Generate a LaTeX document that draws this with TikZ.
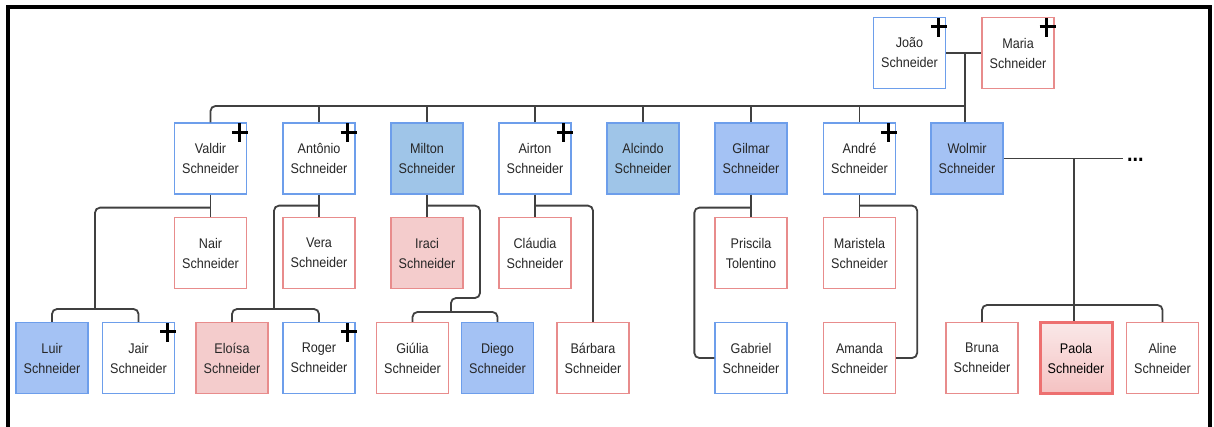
\documentclass[tikz,border=0pt]{standalone}
\usepackage{fontspec}
\setmainfont{Liberation Sans}[FakeStretch=0.9]
\usetikzlibrary{calc}
\definecolor{bline}{HTML}{6D9EEB}
\definecolor{rline}{HTML}{E88C8C}
\definecolor{bfillA}{HTML}{9FC5E8}
\definecolor{bfillB}{HTML}{A4C2F4}
\definecolor{pfill}{HTML}{F4CCCC}
\definecolor{txt}{HTML}{262626}
\definecolor{conn}{HTML}{404040}
\tikzset{
  person/.style={draw, line width=1.3pt, minimum width=72pt, minimum height=71pt, inner sep=0pt,
    align=center, text=txt, font=\fontsize{14}{20}\selectfont},
  bluebox/.style={person, draw=bline, fill=white},
  redbox/.style={person, draw=rline, fill=white},
  bluefA/.style={person, draw=bline, fill=bfillA},
  bluefB/.style={person, draw=bline, fill=bfillB},
  pinkf/.style={person, draw=rline, fill=pfill},
  conline/.style={draw=conn, line width=1.8pt, rounded corners=5pt},
  plusst/.style={draw=black, line width=3pt},
}
\newcommand{\plusmark}[1]{%
  \draw[plusst] ($(#1.north east)+(-15,10)$) -- ++(16,0)
                ($(#1.north east)+(-8,1)$) -- ++(0,19);}
\begin{document}
\begin{tikzpicture}[x=1pt,y=-1pt]
\useasboundingbox (0,0) rectangle (1214,427);
\fill[white] (0,0) rectangle (1214,427);
% frame
\draw[line width=4pt] (8,440) -- (8,7) -- (1210,7) -- (1210,440);

% generation 1
\node[bluebox] (joao) at (909.5,53) {João\\Schneider};
\node[redbox] (maria) at (1018,53) {Maria\\Schneider};

% generation 2
\node[bluebox] (valdir) at (210.5,158.5) {Valdir\\Schneider};
\node[bluebox] (antonio) at (319,158.5) {Antônio\\Schneider};
\node[bluefA] (milton) at (427,158.5) {Milton\\Schneider};
\node[bluebox] (airton) at (535,158.5) {Airton\\Schneider};
\node[bluefA] (alcindo) at (643,158.5) {Alcindo\\Schneider};
\node[bluefB] (gilmar) at (751,158.5) {Gilmar\\Schneider};
\node[bluebox] (andre) at (859.5,158.5) {André\\Schneider};
\node[bluefB] (wolmir) at (967,158.5) {Wolmir\\Schneider};

% spouses
\node[redbox] (nair) at (210.5,253) {Nair\\Schneider};
\node[redbox] (vera) at (319,253) {Vera\\Schneider};
\node[pinkf] (iraci) at (427,253) {Iraci\\Schneider};
\node[redbox] (claudia) at (535,253) {Cláudia\\Schneider};
\node[redbox] (priscila) at (751,253) {Priscila\\Tolentino};
\node[redbox] (maristela) at (859.5,253) {Maristela\\Schneider};

% generation 3
\node[bluefB] (luir) at (52,358) {Luir\\Schneider};
\node[bluebox] (jair) at (138.5,358) {Jair\\Schneider};
\node[pinkf] (eloisa) at (232,358) {Eloísa\\Schneider};
\node[bluebox] (roger) at (319,358) {Roger\\Schneider};
\node[redbox] (giulia) at (412.5,358) {Giúlia\\Schneider};
\node[bluefB] (diego) at (497.5,358) {Diego\\Schneider};
\node[redbox] (barbara) at (593,358) {Bárbara\\Schneider};
\node[bluebox] (gabriel) at (751,358) {Gabriel\\Schneider};
\node[redbox] (amanda) at (859.5,358) {Amanda\\Schneider};
\node[redbox] (bruna) at (982,358) {Bruna\\Schneider};
\node[person, draw=rline!80!red, line width=3pt, top color=pfill!45, bottom color=pfill!95!red,
      text=black] (paola) at (1076,358) {Paola\\Schneider};
\node[redbox] (aline) at (1162.5,358) {Aline\\Schneider};

% plus marks
\plusmark{joao}\plusmark{maria}\plusmark{valdir}\plusmark{antonio}
\plusmark{airton}\plusmark{andre}\plusmark{jair}\plusmark{roger}

% couple and main bus
\coordinate (cm) at (965,53);
\coordinate (bus) at (965,106);
\draw[conline] (joao.east) -- (maria.west);
\draw[conline] (cm) -- (cm |- wolmir.north);
\draw[conline] (valdir.north) |- (bus);
\foreach \n in {antonio,milton,airton,alcindo,gilmar,andre}
  \draw[conline] (\n.north) -- (\n.north |- bus);

% Valdir
\draw[conline] (valdir) -- (nair);
\coordinate (vj) at (95,309);
\draw[conline] ($(valdir.south)+(0,13)$) -| (vj);
\draw[conline] (luir.north) |- (jair.north |- vj) -- (jair.north);

% Antonio
\draw[conline] (antonio) -- (vera);
\coordinate (aj) at (274,309);
\draw[conline] ($(antonio.south)+(0,11)$) -| (aj);
\draw[conline] (eloisa.north) |- (roger.north |- aj) -- (roger.north);

% Milton
\draw[conline] (milton) -- (iraci);
\coordinate (mj) at (451,312);
\draw[conline] ($(milton.south)+(0,11)$) -| (480,298) -| (mj);
\draw[conline] (giulia.north) |- (diego.north |- mj) -- (diego.north);

% Airton
\draw[conline] (airton) -- (claudia);
\draw[conline] ($(airton.south)+(0,11)$) -| (barbara.north);

% Gilmar
\draw[conline] (gilmar) -- (priscila);
\draw[conline] ($(gilmar.south)+(0,13)$) -| ($(gabriel.west)+(-20,0)$) -- (gabriel.west);

% Andre
\draw[conline] (andre) -- (maristela);
\draw[conline] ($(andre.south)+(0,11)$) -| ($(amanda.east)+(21,0)$) -- (amanda.east);

% Wolmir
\coordinate (we) at (1123,158.5);
\coordinate (wv) at (1074,158.5);
\coordinate (wb) at (0,305);
\draw[conline] (wolmir.east) -- (we);
\node[anchor=base west, inner sep=0pt, font=\bfseries\fontsize{22}{22}\selectfont] (dots) at (1127,162) {...};
\draw[conline] (wv) -- (wv |- paola.north);
\draw[conline] (bruna.north) |- (aline.north |- wb) -- (aline.north);
\end{tikzpicture}
\end{document}
